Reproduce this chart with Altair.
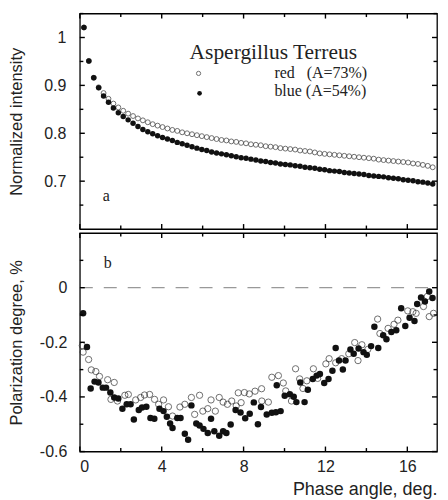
import altair as alt
import pandas as pd

# ---------------- data ----------------
angle_a = [0.20, 0.44, 0.68, 0.92, 1.16, 1.40, 1.64, 1.88, 2.12, 2.36, 2.60, 2.84,
           3.08, 3.32, 3.56, 3.80, 4.04, 4.28, 4.52, 4.76, 5.00, 5.24, 5.48, 5.72,
           5.96, 6.20, 6.44, 6.68, 6.92, 7.16, 7.40, 7.64, 7.88, 8.12, 8.36, 8.60,
           8.84, 9.08, 9.32, 9.56, 9.80, 10.04, 10.28, 10.52, 10.76, 11.00, 11.24, 11.48,
           11.72, 11.96, 12.20, 12.44, 12.68, 12.92, 13.16, 13.40, 13.64, 13.88, 14.12, 14.36,
           14.60, 14.84, 15.08, 15.32, 15.56, 15.80, 16.04, 16.28, 16.52, 16.76, 17.00, 17.24]
red_a = [1.021, 0.951, 0.916, 0.896, 0.884, 0.872, 0.862, 0.854, 0.847, 0.841, 0.836, 0.831,
         0.827, 0.823, 0.819, 0.816, 0.813, 0.810, 0.807, 0.805, 0.802, 0.800, 0.798, 0.796,
         0.794, 0.792, 0.790, 0.788, 0.786, 0.785, 0.783, 0.782, 0.780, 0.779, 0.777, 0.776,
         0.775, 0.773, 0.772, 0.771, 0.769, 0.768, 0.767, 0.766, 0.764, 0.763, 0.762, 0.760,
         0.758, 0.757, 0.756, 0.755, 0.754, 0.753, 0.752, 0.751, 0.750, 0.749, 0.748, 0.747,
         0.745, 0.744, 0.743, 0.742, 0.741, 0.740, 0.739, 0.737, 0.736, 0.734, 0.732, 0.729]
blue_a = [1.021, 0.951, 0.916, 0.895, 0.878, 0.865, 0.853, 0.843, 0.835, 0.828, 0.821, 0.814,
          0.808, 0.803, 0.799, 0.795, 0.791, 0.788, 0.785, 0.781, 0.778, 0.775, 0.772, 0.769,
          0.766, 0.764, 0.761, 0.759, 0.757, 0.755, 0.753, 0.751, 0.749, 0.748, 0.746, 0.744,
          0.742, 0.741, 0.739, 0.738, 0.736, 0.735, 0.734, 0.732, 0.731, 0.729, 0.728, 0.727,
          0.725, 0.724, 0.722, 0.721, 0.720, 0.718, 0.717, 0.716, 0.715, 0.714, 0.712, 0.711,
          0.710, 0.709, 0.707, 0.706, 0.705, 0.703, 0.702, 0.701, 0.699, 0.698, 0.696, 0.694]

red_b_angle = [0.12, 0.16, 0.43, 0.56, 0.78, 0.96, 1.36, 1.52, 1.68, 1.84, 2.20, 2.37,
               2.73, 2.97, 3.16, 3.41, 3.65, 3.85, 4.09, 4.33, 4.53, 4.89, 5.13, 5.45,
               5.61, 5.85, 6.01, 6.25, 6.41, 6.62, 6.81, 7.00, 7.21, 7.42, 7.64, 7.74,
               7.88, 8.04, 8.28, 8.56, 8.88, 8.89, 9.21, 9.38, 9.70, 9.94, 10.06, 10.34,
               10.54, 10.74, 10.90, 11.09, 11.41, 11.62, 12.02, 12.18, 12.50, 12.79, 13.14, 13.43,
               13.59, 13.78, 14.07, 14.55, 14.66, 15.06, 15.35, 15.54, 16.02, 16.27, 16.43, 16.79,
               16.98, 17.07, 17.28]
red_b = [-0.212, -0.236, -0.263, -0.301, -0.307, -0.325, -0.337, -0.409, -0.347, -0.415, -0.394, -0.391,
         -0.411, -0.402, -0.393, -0.391, -0.409, -0.427, -0.411, -0.436, -0.470, -0.437, -0.427, -0.402,
         -0.464, -0.394, -0.452, -0.443, -0.411, -0.452, -0.402, -0.419, -0.427, -0.415, -0.433, -0.385,
         -0.421, -0.384, -0.389, -0.379, -0.370, -0.415, -0.419, -0.328, -0.322, -0.349, -0.378, -0.415,
         -0.297, -0.334, -0.369, -0.341, -0.297, -0.332, -0.279, -0.260, -0.275, -0.260, -0.242, -0.201,
         -0.267, -0.209, -0.226, -0.115, -0.168, -0.149, -0.134, -0.119, -0.085, -0.088, -0.094, -0.069,
         -0.032, -0.106, -0.094]

blue_b_angle = [0.16, 0.35, 0.53, 0.72, 0.91, 1.12, 1.28, 1.49, 1.68, 1.88, 2.08, 2.29,
                2.48, 2.64, 2.88, 3.04, 3.25, 3.45, 3.64, 3.89, 4.09, 4.25, 4.41, 4.53,
                4.76, 4.92, 5.13, 5.29, 5.45, 5.69, 5.85, 6.04, 6.25, 6.41, 6.57, 6.81,
                7.00, 7.16, 7.37, 7.61, 7.85, 8.08, 8.30, 8.50, 8.70, 8.85, 9.13, 9.38,
                9.58, 9.62, 9.81, 10.01, 10.26, 10.45, 10.58, 10.77, 10.98, 11.14, 11.38, 11.57,
                11.73, 11.94, 12.15, 12.34, 12.50, 12.66, 12.85, 12.98, 13.22, 13.38, 13.62, 13.86,
                14.02, 14.23, 14.39, 14.58, 14.82, 14.98, 15.22, 15.46, 15.70, 15.90, 16.11, 16.35,
                16.48, 16.67, 16.86, 17.07, 17.23]
blue_b = [-0.094, -0.217, -0.369, -0.344, -0.347, -0.366, -0.366, -0.384, -0.402, -0.406, -0.443, -0.427,
          -0.427, -0.483, -0.448, -0.439, -0.436, -0.477, -0.480, -0.443, -0.452, -0.473, -0.497, -0.514,
          -0.477, -0.477, -0.535, -0.557, -0.431, -0.497, -0.505, -0.517, -0.532, -0.480, -0.526, -0.542,
          -0.526, -0.532, -0.501, -0.448, -0.457, -0.478, -0.462, -0.420, -0.500, -0.437, -0.464, -0.458,
          -0.456, -0.357, -0.452, -0.396, -0.390, -0.399, -0.419, -0.347, -0.419, -0.374, -0.334, -0.322,
          -0.316, -0.349, -0.334, -0.304, -0.221, -0.267, -0.300, -0.267, -0.226, -0.242, -0.223, -0.236,
          -0.246, -0.214, -0.143, -0.221, -0.174, -0.189, -0.162, -0.156, -0.075, -0.140, -0.110, -0.122,
          -0.060, -0.036, -0.051, -0.014, -0.038]

x_major = [0, 4, 8, 12, 16]
x_minor = [2, 6, 10, 14]
ya_major = [0.7, 0.8, 0.9, 1.0]
ya_minor = [0.65, 0.75, 0.85, 0.95, 1.05]
yb_major = [-0.6, -0.4, -0.2, 0.0]
yb_minor = [-0.5, -0.3, -0.1, 0.1]

legend_title = "Aspergillus Terreus"
legend_red = "red\u00a0\u00a0 (A=73%)"
legend_blue = "blue (A=54%)"

# ---------------- layout / style ----------------
W, HA, HB = 358, 216, 219
SANS, SERIF = "Liberation Sans", "Liberation Serif"
INK = "#222"
xscale = alt.Scale(domain=[0, 17.45], nice=False, zero=False)
ya_scale = alt.Scale(domain=[0.6, 1.05], nice=False, zero=False)
yb_scale = alt.Scale(domain=[-0.6, 0.2], nice=False, zero=False)


def tick_layers(yscale, ymaj, ymin, H):
    out = []
    for vals, ln in ((x_major, 5), (x_minor, 3.5)):
        d = pd.DataFrame({"angle": vals})
        out.append(alt.Chart(d).mark_rule(color="black", strokeWidth=1.4).encode(
            x=alt.X("angle:Q", scale=xscale), y=alt.value(H), y2=alt.value(H - ln)))
        out.append(alt.Chart(d).mark_rule(color="black", strokeWidth=1.4).encode(
            x=alt.X("angle:Q", scale=xscale), y=alt.value(0), y2=alt.value(ln)))
    for vals, ln in ((ymaj, 5), (ymin, 3.5)):
        d = pd.DataFrame({"val": vals})
        out.append(alt.Chart(d).mark_rule(color="black", strokeWidth=1.4).encode(
            y=alt.Y("val:Q", scale=yscale), x=alt.value(0), x2=alt.value(ln)))
        out.append(alt.Chart(d).mark_rule(color="black", strokeWidth=1.4).encode(
            y=alt.Y("val:Q", scale=yscale), x=alt.value(W), x2=alt.value(W - ln)))
    return out


def yaxis(title, values, pad):
    return alt.Axis(values=values, labelExpr="'' + datum.value", ticks=False, domain=False,
                    grid=False, labelFont=SANS, labelFontSize=16, labelColor=INK,
                    labelPadding=pad, title=title, titleFont=SANS, titleFontSize=16.5,
                    titleFontWeight="normal", titleColor=INK, titleX=-63,
                    titleAngle=270, titleBaseline="middle", titleAlign="center")


def txt(s, x, y, size, font=SERIF, color=INK):
    return alt.Chart(pd.DataFrame({"t": [s]})).mark_text(
        font=font, fontSize=size, fontWeight="normal", color=color, align="left",
        baseline="alphabetic").encode(x=alt.value(x), y=alt.value(y), text="t:N")


# ---------------- panel a ----------------
df_a = pd.DataFrame({"angle": angle_a, "red": red_a, "blue": blue_a})
red_pts_a = alt.Chart(df_a).mark_point(shape="circle", filled=False, color="#333",
                                       strokeWidth=1, size=24).encode(
    x=alt.X("angle:Q", scale=xscale, axis=None),
    y=alt.Y("red:Q", scale=ya_scale, axis=yaxis("Normalized intensity", ya_major, 14)))
blue_pts_a = alt.Chart(df_a).mark_point(shape="circle", filled=True, color="#111",
                                        opacity=1, size=30).encode(
    x=alt.X("angle:Q", scale=xscale),
    y=alt.Y("blue:Q", scale=ya_scale))

leg_open = alt.Chart(pd.DataFrame({"k": [0]})).mark_point(
    shape="circle", filled=False, color="#333", strokeWidth=1, size=18).encode(
    x=alt.value(119), y=alt.value(60))
leg_fill = alt.Chart(pd.DataFrame({"k": [0]})).mark_point(
    shape="circle", filled=True, color="#111", opacity=1, size=22).encode(
    x=alt.value(120), y=alt.value(80))

panel_a = alt.layer(
    red_pts_a, blue_pts_a, *tick_layers(ya_scale, ya_major, ya_minor, HA),
    txt(legend_title, 110, 46, 21.5),
    txt(legend_red, 195, 65, 16), txt(legend_blue, 195, 83, 16),
    leg_open, leg_fill, txt("a", 23, 188, 16)
).properties(width=W, height=HA)

# ---------------- panel b ----------------
df_rb = pd.DataFrame({"angle": red_b_angle, "pol": red_b})
df_bb = pd.DataFrame({"angle": blue_b_angle, "pol": blue_b})

xaxis_b = alt.Axis(values=x_major, format="d", ticks=False, domain=False, grid=False,
                   labelFont=SANS, labelFontSize=16, labelColor=INK, labelPadding=7,
                   title="Phase angle, deg.", titleFont=SANS, titleFontSize=18,
                   titleFontWeight="normal", titleColor=INK, titleAnchor="end",
                   titleAlign="right", titlePadding=6)

red_pts_b = alt.Chart(df_rb).mark_point(shape="circle", filled=False, color="#333",
                                        strokeWidth=1, size=40).encode(
    x=alt.X("angle:Q", scale=xscale, axis=xaxis_b),
    y=alt.Y("pol:Q", scale=yb_scale, axis=yaxis("Polarization degree, %", yb_major, 13)))
blue_pts_b = alt.Chart(df_bb).mark_point(shape="circle", filled=True, color="#111",
                                         opacity=1, size=42).encode(
    x=alt.X("angle:Q", scale=xscale),
    y=alt.Y("pol:Q", scale=yb_scale))
zero = alt.Chart(pd.DataFrame({"pol": [0.0], "angle": [0.0], "a1": [17.45]})).mark_rule(
    color="#999", strokeWidth=1.3, strokeDash=[13, 11]).encode(
    x=alt.X("angle:Q", scale=xscale), x2="a1:Q",
    y=alt.Y("pol:Q", scale=yb_scale))

panel_b = alt.layer(
    red_pts_b, zero, blue_pts_b, *tick_layers(yb_scale, yb_major, yb_minor, HB),
    txt("b", 24, 35, 16)
).properties(width=W, height=HB)

chart = alt.vconcat(panel_a, panel_b, spacing=0).properties(
    padding={"left": 0, "top": 3, "right": 0, "bottom": 0}
).configure_view(stroke="black", strokeWidth=1.3)

chart.save("out.html", embed_options={"renderer": "svg", "actions": False})
